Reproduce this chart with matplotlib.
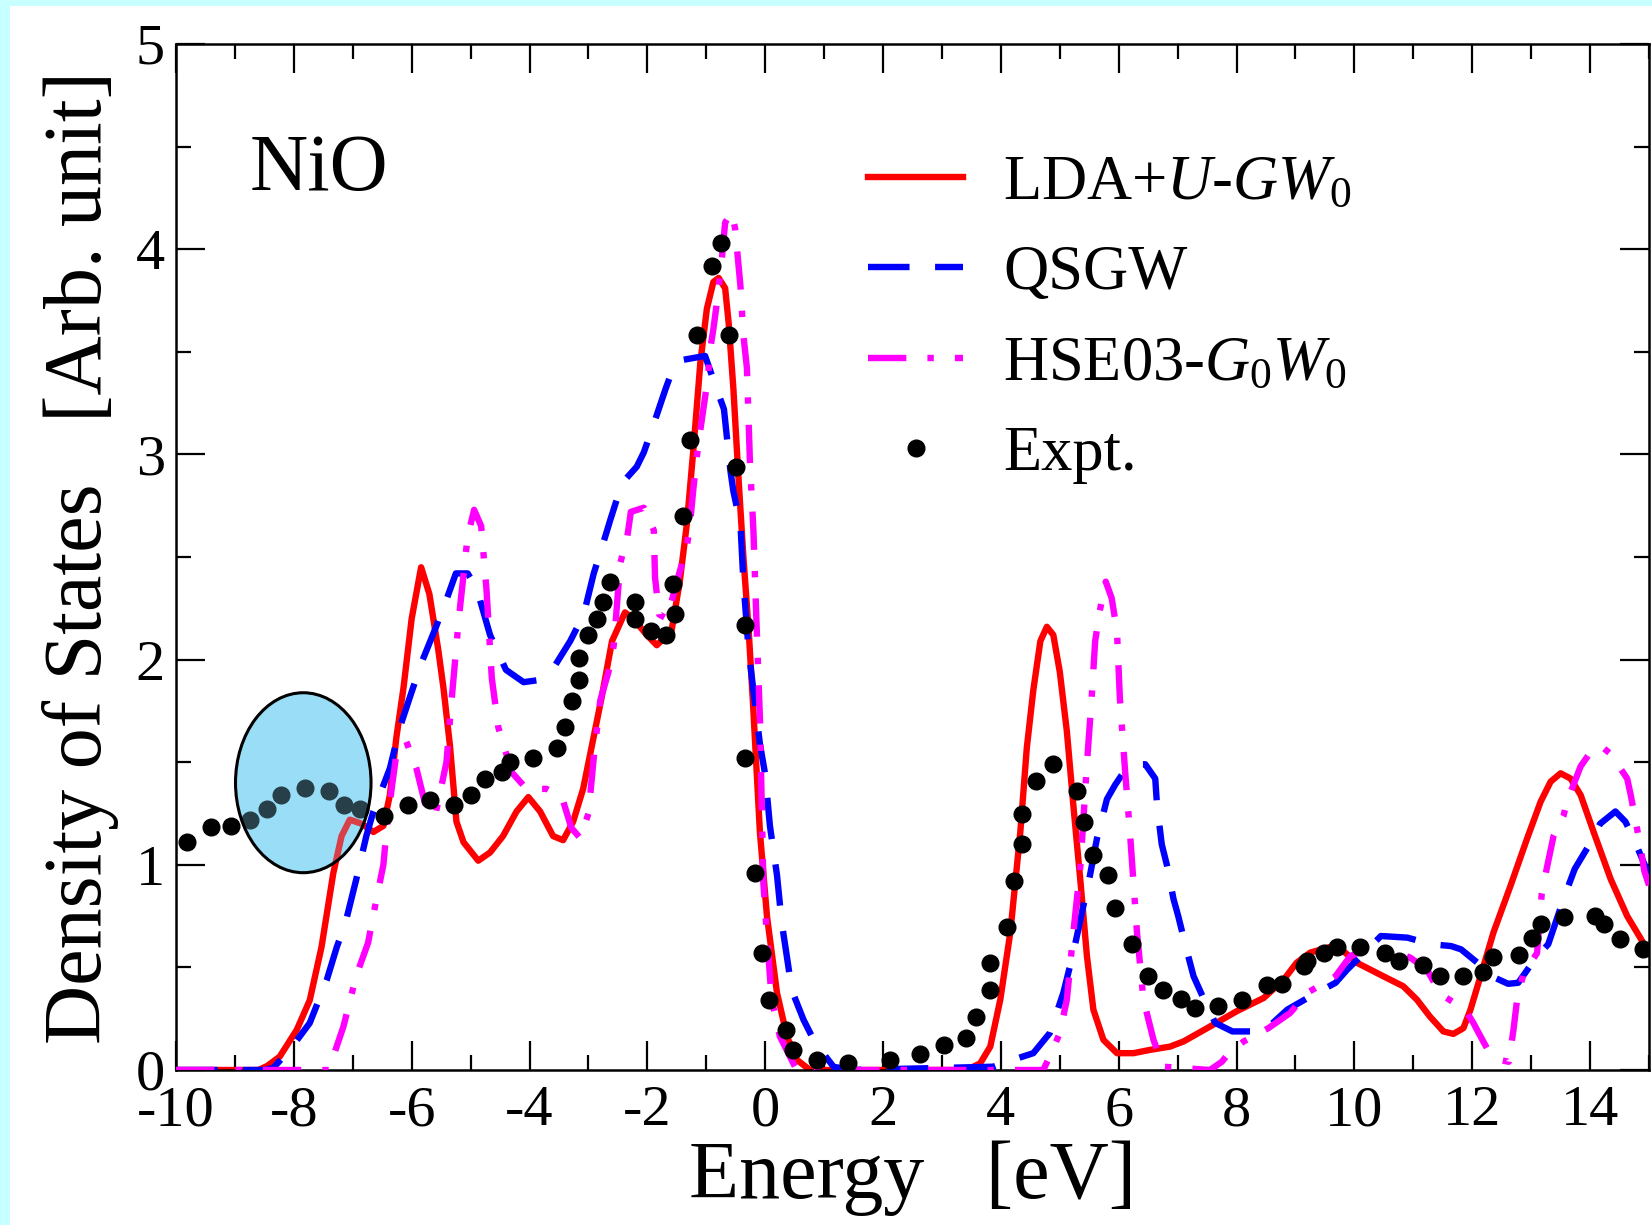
import matplotlib
matplotlib.use("Agg")
import matplotlib.pyplot as plt
from matplotlib.patches import Ellipse, Rectangle
from matplotlib.ticker import MultipleLocator

plt.rcParams['font.family'] = ['Liberation Serif', 'DejaVu Serif']
plt.rcParams['mathtext.fontset'] = 'custom'
plt.rcParams['mathtext.rm'] = 'Liberation Serif'
plt.rcParams['mathtext.it'] = 'Liberation Serif:italic'
plt.rcParams['axes.unicode_minus'] = False
plt.rcParams['hatch.color'] = '#55c4ee'
plt.rcParams['hatch.linewidth'] = 0.6

# LDA+U-GW0 (red, solid)
lda_x = [-10.0, -8.6, -8.45, -8.24, -7.95, -7.73, -7.53, -7.33, -7.19, -7.05, -6.85, -6.65,
         -6.48, -6.37, -6.26, -6.14, -6.0, -5.84, -5.7, -5.55, -5.46, -5.35, -5.24, -5.12,
         -4.87, -4.67, -4.45, -4.22, -4.02, -3.82, -3.6, -3.43, -3.26, -3.09, -2.97, -2.78,
         -2.6, -2.38, -2.24, -2.01, -1.84, -1.59, -1.45, -1.33, -1.22, -1.1, -0.99, -0.88,
         -0.79, -0.68, -0.62, -0.54, -0.45, -0.37, -0.28, -0.2, -0.09, 0.03, 0.2, 0.37,
         0.54, 0.76, 3.42, 3.65, 3.82, 3.99, 4.16, 4.33, 4.44, 4.55, 4.67, 4.78, 4.89,
         5.0, 5.12, 5.23, 5.35, 5.46, 5.57, 5.74, 5.97, 6.25, 6.53, 6.87, 7.1, 7.55, 8.0,
         8.46, 8.8, 9.02, 9.25, 9.59, 9.81, 10.04, 10.49, 10.83, 11.06, 11.28, 11.51,
         11.68, 11.85, 11.97, 12.14, 12.36, 12.65, 12.93, 13.16, 13.33, 13.5, 13.67,
         13.84, 14.06, 14.35, 14.63, 14.86, 15.0]
lda_y = [0.0, 0.0, 0.02, 0.065, 0.196, 0.34, 0.6, 0.96, 1.14, 1.22, 1.2, 1.16,
         1.19, 1.34, 1.62, 1.86, 2.2, 2.45, 2.32, 2.05, 1.86, 1.58, 1.21, 1.11,
         1.02, 1.06, 1.14, 1.26, 1.33, 1.26, 1.14, 1.12, 1.21, 1.37, 1.54, 1.81,
         2.09, 2.23, 2.2, 2.12, 2.07, 2.14, 2.38, 2.66, 3.02, 3.45, 3.71, 3.84,
         3.86, 3.81, 3.64, 3.32, 2.87, 2.5, 2.14, 1.75, 1.16, 0.75, 0.376, 0.163,
         0.049, 0.0, 0.0, 0.033, 0.114, 0.343, 0.67, 1.16, 1.57, 1.85, 2.09, 2.16, 2.12,
         1.94, 1.65, 1.29, 0.92, 0.556, 0.294, 0.147, 0.082, 0.082, 0.098, 0.114, 0.139, 0.212, 0.286,
         0.351, 0.44, 0.523, 0.572, 0.6, 0.58, 0.523, 0.457, 0.408, 0.343, 0.261, 0.188,
         0.176, 0.204, 0.294, 0.457, 0.67, 0.898, 1.127, 1.307, 1.405, 1.446, 1.42,
         1.34, 1.16, 0.93, 0.75, 0.64, 0.57]

# QSGW (blue, dashed)
qsgw_x = [-10.0, -8.5, -8.35, -8.07, -7.73, -7.44, -7.27, -7.13, -6.94, -6.77, -6.65, -6.37,
          -6.2, -6.05, -5.84, -5.6, -5.4, -5.25, -5.05, -4.9, -4.67, -4.4, -4.1, -3.85,
          -3.57, -3.31, -3.08, -2.91, -2.8, -2.63, -2.43, -2.18, -2.06, -1.89, -1.69, -1.55,
          -1.41, -1.02, -0.85, -0.7, -0.59, -0.54, -0.42, -0.37, -0.28, -0.2, -0.09, 0.0,
          0.08, 0.2, 0.28, 0.39, 0.45, 0.65, 0.85, 1.16, 1.45, 3.87, 4.1, 4.55, 4.83, 5.06,
          5.23, 5.4, 5.49, 5.63, 5.8, 5.94, 6.08, 6.25, 6.45, 6.62, 6.65, 6.73, 6.82, 6.93,
          7.01, 7.15, 7.27, 7.5, 7.64, 7.93, 8.46, 8.86, 9.2, 9.68, 9.88, 10.11, 10.45,
          10.9, 11.3, 11.64, 11.81, 12.1, 12.38, 12.61, 12.78, 13.06, 13.29, 13.57, 13.74,
          13.97, 14.17, 14.43, 14.6, 14.75, 15.0]
qsgw_y = [0.0, 0.0, 0.01, 0.098, 0.229, 0.44, 0.6, 0.71, 0.93, 1.14, 1.26, 1.47,
          1.67, 1.8, 1.98, 2.15, 2.3, 2.42, 2.42, 2.35, 2.12, 1.95, 1.89, 1.9,
          1.97, 2.09, 2.22, 2.42, 2.52, 2.68, 2.86, 2.94, 3.01, 3.15, 3.32, 3.43,
          3.46, 3.48, 3.34, 3.22, 2.92, 2.82, 2.66, 2.38, 2.04, 1.85, 1.59, 1.44,
          1.19, 0.95, 0.72, 0.51, 0.39, 0.245, 0.131, 0.016, 0.0, 0.016, 0.04, 0.082, 0.18, 0.376,
          0.572, 0.8, 0.915, 1.127, 1.32, 1.39, 1.45, 1.49, 1.49, 1.42, 1.29, 1.1, 0.996, 0.833,
          0.75, 0.588, 0.457, 0.31, 0.229, 0.188, 0.188, 0.294, 0.35, 0.425, 0.49, 0.555, 0.653,
          0.645, 0.613, 0.604, 0.588, 0.52, 0.45, 0.42, 0.425, 0.539, 0.613, 0.85, 0.98,
          1.09, 1.2, 1.26, 1.21, 1.12, 0.95]

# HSE03-G0W0 (magenta, dash-dot)
hse_x = [-10.0, -7.39, -7.35, -7.16, -6.94, -6.74, -6.6, -6.48, -6.43, -6.34, -6.26, -6.09,
         -5.92, -5.74, -5.6, -5.41, -5.32, -5.2, -5.05, -4.94, -4.82, -4.73, -4.64, -4.53,
         -4.3, -4.05, -3.71, -3.45, -3.29, -3.14, -3.0, -2.9, -2.8, -2.66, -2.57, -2.46,
         -2.34, -2.28, -2.06, -1.89, -1.87, -1.8, -1.67, -1.45, -1.33, -1.28, -1.22, -1.16,
         -1.1, -1.05, -0.97, -0.94, -0.88, -0.82, -0.74, -0.68, -0.57, -0.51, -0.42, -0.37,
         -0.31, -0.26, -0.2, -0.15, -0.117, -0.088, -0.06, -0.032, 0.025, 0.11, 0.25, 0.534,
         4.72, 4.85, 5.0, 5.12, 5.23, 5.35, 5.46, 5.54, 5.6, 5.68, 5.78, 5.88, 5.97, 6.02,
         6.11, 6.19, 6.25, 6.31, 6.42, 6.59, 6.76, 7.55, 7.75, 7.89, 8.12, 8.54, 8.91, 9.2,
         9.68, 9.93, 10.27, 10.61, 10.95, 11.23, 11.46, 11.88, 12.02, 12.11, 12.25, 12.45,
         12.62, 12.7, 12.76, 12.87, 13.1, 13.18, 13.27, 13.38, 13.55, 13.61, 13.84, 14.01,
         14.18, 14.35, 14.63, 14.69, 14.86, 14.92, 15.0]
hse_y = [0.0, 0.0, 0.05, 0.21, 0.46, 0.62, 0.83, 1.0, 1.16, 1.37, 1.54, 1.6,
         1.47, 1.26, 1.24, 1.5, 1.81, 2.2, 2.6, 2.73, 2.65, 2.34, 1.91, 1.67,
         1.45, 1.37, 1.37, 1.33, 1.18, 1.13, 1.25, 1.55, 1.8, 1.94, 2.07, 2.47,
         2.6, 2.72, 2.74, 2.63, 2.4, 2.22, 2.2, 2.43, 2.55, 2.65, 2.83, 2.99,
         3.12, 3.22, 3.38, 3.5, 3.61, 3.74, 3.94, 4.13, 4.18, 4.1, 3.82, 3.58,
         3.42, 2.97, 2.63, 2.2, 1.94, 1.7, 1.32, 0.915, 0.67, 0.343, 0.163, 0.0,
         0.0, 0.08, 0.18, 0.343, 0.67, 0.996, 1.49, 1.81, 2.09, 2.24, 2.38, 2.3, 2.14, 1.81,
         1.45, 1.16, 0.915, 0.67, 0.343, 0.147, 0.016, 0.0, 0.04, 0.09, 0.139, 0.204, 0.278, 0.376,
         0.457, 0.555, 0.596, 0.588, 0.547, 0.49, 0.37, 0.294, 0.229, 0.18, 0.106, 0.05,
         0.04, 0.196, 0.34, 0.47, 0.57, 0.86, 0.99, 1.14, 1.24, 1.31, 1.48, 1.55,
         1.58, 1.54, 1.42, 1.34, 1.08, 0.97, 0.9]

# Expt. (black dots)
expt_x = [-9.81, -9.4, -9.06, -8.75, -8.46, -8.21, -7.81, -7.4, -7.15, -6.88, -6.47, -6.06,
          -5.69, -5.29, -5.0, -4.76, -4.47, -4.33, -3.94, -3.54, -3.4, -3.28, -3.16, -3.16,
          -3.0, -2.86, -2.75, -2.63, -2.21, -2.21, -1.93, -1.69, -1.53, -1.56, -1.39, -1.28,
          -1.16, -0.9, -0.75, -0.62, -0.5, -0.34, -0.34, -0.17, -0.05, 0.07, 0.35, 0.47,
          0.88, 1.41, 2.11, 2.63, 3.04, 3.4, 3.58, 3.82, 3.82, 4.1, 4.22, 4.35, 4.35, 4.6,
          4.88, 5.29, 5.41, 5.57, 5.81, 5.94, 6.22, 6.5, 6.76, 7.05, 7.3, 7.69, 8.09, 8.51,
          8.77, 9.15, 9.19, 9.48, 9.7, 10.1, 10.52, 10.75, 11.16, 11.45, 11.85, 12.19, 12.36,
          12.79, 13.01, 13.16, 13.55, 14.09, 14.23, 14.5, 14.9]
expt_y = [1.11, 1.185, 1.19, 1.22, 1.27, 1.34, 1.376, 1.36, 1.29, 1.27, 1.24, 1.29,
          1.315, 1.29, 1.34, 1.42, 1.45, 1.5, 1.52, 1.57, 1.67, 1.8, 1.9, 2.01,
          2.12, 2.2, 2.28, 2.38, 2.28, 2.2, 2.14, 2.12, 2.22, 2.37, 2.7, 3.07,
          3.58, 3.92, 4.03, 3.58, 2.94, 2.17, 1.52, 0.96, 0.57, 0.343, 0.196, 0.098,
          0.049, 0.033, 0.049, 0.078, 0.12, 0.155, 0.26, 0.39, 0.52, 0.695, 0.92, 1.1, 1.25, 1.41,
          1.49, 1.36, 1.21, 1.05, 0.948, 0.79, 0.616, 0.46, 0.39, 0.346, 0.3, 0.313, 0.343, 0.412,
          0.417, 0.507, 0.53, 0.57, 0.6, 0.6, 0.57, 0.53, 0.51, 0.46, 0.46, 0.48, 0.55,
          0.56, 0.645, 0.71, 0.744, 0.75, 0.71, 0.64, 0.59]

labels = [r'LDA+$U$-$GW_0$', 'QSGW', r'HSE03-$G_0W_0$', 'Expt.']

# highlighted region (ellipse around the satellite)
ell_center = (-7.84, 1.40)
ell_width = 2.30
ell_height = 0.877

fig = plt.figure(figsize=(16.52, 12.25), dpi=100)
fig.patch.set_facecolor('#c8ffff')
fig.add_artist(Rectangle((10 / 1652, 0), 1, 1 - 6 / 1225, transform=fig.transFigure,
                         facecolor='white', edgecolor='none', zorder=-5))
ax = fig.add_axes([176 / 1652, 1 - 1070 / 1225, 1473 / 1652, 1026 / 1225])

lw = 4.6
ax.plot(lda_x, lda_y, color='#ff0000', lw=lw, label=labels[0], zorder=2)
ax.plot(qsgw_x, qsgw_y, color='#0000ff', lw=lw, dashes=(6.5, 4.0), label=labels[1], zorder=3)
ax.plot(hse_x, hse_y, color='#ff00ff', lw=lw, dashes=(6.0, 3.3, 1.0, 3.3), label=labels[2], zorder=4)
ax.plot(expt_x, expt_y, 'o', color='black', ms=12, mec='black', label=labels[3], zorder=5)

# ellipse: opaque hatched base below the data, translucent tint above it
ax.add_patch(Ellipse(ell_center, ell_width, ell_height, facecolor='#a6e3f8',
                     edgecolor='none', hatch='+++++', zorder=1.5))
ax.add_patch(Ellipse(ell_center, ell_width, ell_height, facecolor='#7fd2f2', alpha=0.3,
                     edgecolor='none', zorder=6))
ax.add_patch(Ellipse(ell_center, ell_width, ell_height, facecolor='none',
                     edgecolor='black', lw=2.2, zorder=6.5))

ax.set_xlim(-10, 15)
ax.set_ylim(0, 5)
ax.xaxis.set_major_locator(MultipleLocator(2))
ax.xaxis.set_minor_locator(MultipleLocator(1))
ax.yaxis.set_major_locator(MultipleLocator(1))
ax.yaxis.set_minor_locator(MultipleLocator(0.5))
ax.tick_params(which='both', direction='in', top=True, right=True, width=1.6, labelsize=42)
ax.tick_params(which='major', length=21)
ax.tick_params(which='minor', length=11)
ax.tick_params(axis='x', pad=11)
ax.tick_params(axis='y', pad=8)
for s in ax.spines.values():
    s.set_linewidth(1.8)

ax.set_xlabel('Energy   [eV]', fontsize=59, labelpad=2)
ax.set_ylabel('Density of States   [Arb. unit]', fontsize=59, labelpad=12)

ax.text(-8.75, 4.29, 'NiO', fontsize=58, va='baseline', ha='left')

ax.legend(loc='upper left', bbox_to_anchor=(0.470, 0.892), frameon=False, fontsize=45,
          handlelength=1.52, handletextpad=0.64, labelspacing=0.52, borderpad=0,
          borderaxespad=0, numpoints=1)

fig.savefig('out.png', dpi=100, facecolor=fig.get_facecolor())
